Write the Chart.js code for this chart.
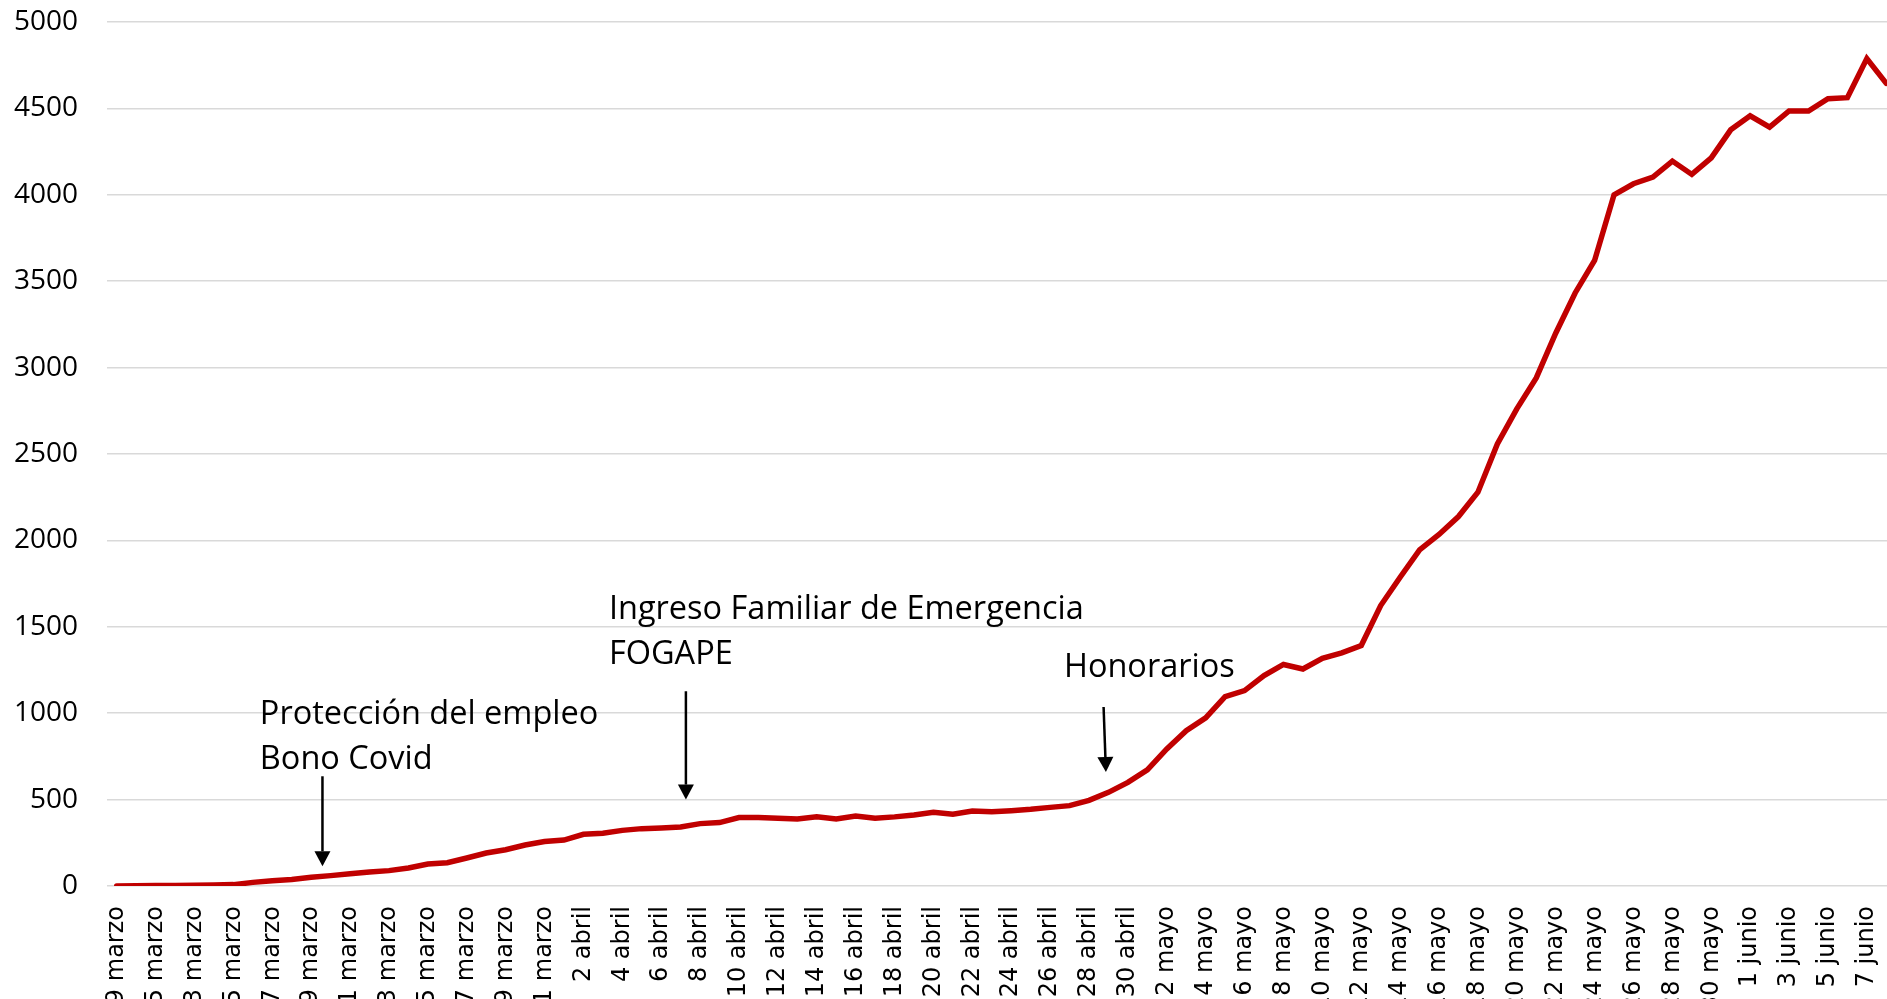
<!DOCTYPE html>
<html lang="es">
<head>
<meta charset="UTF-8">
<title>Solicitudes diarias</title>
<script src="https://cdn.jsdelivr.net/npm/chart.js@4"></script>
<style>
  html, body { margin: 0; padding: 0; background: #fff; overflow: hidden; }
  /* the reference is a crop: plot runs a bit past the right and bottom edge */
  #wrap { position: absolute; left: 0; top: 0; width: 1906px; height: 1040px; }
</style>
</head>
<body>
<div id="wrap"><canvas id="chart"></canvas></div>
<script>
// tick labels, one per day (only every other one is shown)
const fechas = [
  '9 marzo', '10 marzo', '15 marzo', '12 marzo', '13 marzo', '14 marzo', '15 marzo', '16 marzo',
  '17 marzo', '18 marzo', '19 marzo', '20 marzo', '21 marzo', '22 marzo', '23 marzo', '24 marzo',
  '25 marzo', '26 marzo', '27 marzo', '28 marzo', '29 marzo', '30 marzo', '31 marzo',
  '1 abril', '2 abril', '3 abril', '4 abril', '5 abril', '6 abril', '7 abril', '8 abril', '9 abril',
  '10 abril', '11 abril', '12 abril', '13 abril', '14 abril', '15 abril', '16 abril', '17 abril',
  '18 abril', '19 abril', '20 abril', '21 abril', '22 abril', '23 abril', '24 abril', '25 abril',
  '26 abril', '27 abril', '28 abril', '29 abril', '30 abril',
  '1 mayo', '2 mayo', '3 mayo', '4 mayo', '5 mayo', '6 mayo', '7 mayo', '8 mayo', '9 mayo',
  '10 mayo', '11 mayo', '12 mayo', '13 mayo', '14 mayo', '15 mayo', '16 mayo', '17 mayo',
  '18 mayo', '19 mayo', '20 mayo', '21 mayo', '22 mayo', '23 mayo', '24 mayo', '25 mayo',
  '26 mayo', '27 mayo', '28 mayo', '29 mayo', '30 mayo', '31 mayo',
  '1 junio', '2 junio', '3 junio', '4 junio', '5 junio', '6 junio', '7 junio', '8 junio'
];

const valores = [
  0, 2, 3, 3, 4, 6, 8, 21, 31, 37,
  50, 60, 71, 81, 89, 104, 127, 135, 162, 191,
  210, 237, 257, 266, 299, 305, 322, 332, 336, 342,
  361, 367, 396, 396, 392, 388, 401, 388, 405, 392,
  400, 411, 427, 415, 434, 430, 436, 444, 455, 465,
  496, 542, 600, 672, 793, 899, 973, 1096, 1131, 1218,
  1282, 1256, 1318, 1349, 1392, 1623, 1787, 1945, 2034, 2138,
  2279, 2558, 2761, 2940, 3199, 3432, 3620, 4000, 4064, 4102,
  4195, 4118, 4214, 4376, 4457, 4392, 4485, 4485, 4556, 4562,
  4788, 4645
];

const yMin = 0, yMax = 5000, yPaso = 500;

// annotations in data units: x = day index, y = value
const notas = [
  { textos: ['Protección del empleo', 'Bono Covid'], tx: 7.36, ty: [940, 679],
    desde: [10.58, 635], hasta: [10.58, 114] },
  { textos: ['Ingreso Familiar de Emergencia', 'FOGAPE'], tx: 25.31, ty: [1543, 1287],
    desde: [29.27, 1127], hasta: [29.27, 500] },
  { textos: ['Honorarios'], tx: 48.71, ty: [1209],
    desde: [50.75, 1036], hasta: [50.87, 660] }
];

Chart.defaults.font.family = '"Open Sans", sans-serif';
Chart.defaults.color = '#000';

function flecha(ctx, x1, y1, x2, y2) {
  const largo = 15, ancho = 8;
  const dx = x2 - x1, dy = y2 - y1;
  const d = Math.hypot(dx, dy);
  const ux = dx / d, uy = dy / d;
  const bx = x2 - ux * largo, by = y2 - uy * largo;
  ctx.beginPath();
  ctx.moveTo(x1, y1);
  ctx.lineTo(bx, by);
  ctx.stroke();
  ctx.beginPath();
  ctx.moveTo(x2, y2);
  ctx.lineTo(bx - uy * ancho, by + ux * ancho);
  ctx.lineTo(bx + uy * ancho, by - ux * ancho);
  ctx.closePath();
  ctx.fill();
}

const notasPlugin = {
  id: 'notas',
  afterDatasetsDraw(chart) {
    const { ctx, scales: { x, y } } = chart;
    ctx.save();
    ctx.fillStyle = '#000';
    ctx.strokeStyle = '#000';
    ctx.lineWidth = 2.5;
    ctx.font = '32.5px "Open Sans"';
    ctx.textAlign = 'left';
    ctx.textBaseline = 'alphabetic';
    notas.forEach(n => {
      n.textos.forEach((t, k) => {
        ctx.fillText(t, x.getPixelForValue(n.tx), y.getPixelForValue(n.ty[k]));
      });
      flecha(ctx,
        x.getPixelForValue(n.desde[0]), y.getPixelForValue(n.desde[1]),
        x.getPixelForValue(n.hasta[0]), y.getPixelForValue(n.hasta[1]));
    });
    ctx.restore();
  }
};

new Chart(document.getElementById('chart'), {
  type: 'line',
  data: {
    labels: fechas,
    datasets: [{
      data: valores,
      borderColor: '#c00000',
      borderWidth: 5.5,
      borderJoinStyle: 'miter',
      borderCapStyle: 'round',
      pointRadius: 0,
      tension: 0,
      fill: false
    }]
  },
  options: {
    responsive: true,
    maintainAspectRatio: false,
    animation: false,
    layout: { padding: { top: 22, right: 10, left: 0, bottom: 0 } },
    plugins: { legend: { display: false }, tooltip: { enabled: false } },
    scales: {
      x: {
        offset: true,
        grid: { display: false, drawTicks: false },
        border: { display: false },
        ticks: {
          autoSkip: false,
          minRotation: 90,
          maxRotation: 90,
          padding: 20,
          font: { family: '"DejaVu Sans", sans-serif', size: 24 },
          callback: (v, i) => (i % 2 === 0 ? fechas[i] : '')
        },
        afterFit: s => { s.height = 154; s.paddingLeft = 0; s.paddingRight = 0; }
      },
      y: {
        min: yMin,
        max: yMax,
        grid: { color: '#d9d9d9', lineWidth: 1.5, drawTicks: false },
        border: { display: false },
        ticks: { stepSize: yPaso, padding: 29, font: { size: 28 }, callback: v => String(v) },
        afterFit: s => { s.width = 107; s.paddingTop = 0; s.paddingBottom = 0; }
      }
    }
  },
  plugins: [notasPlugin]
});
</script>
</body>
</html>
